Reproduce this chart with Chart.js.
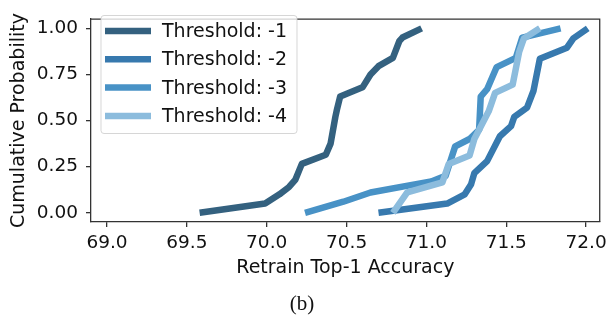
<!DOCTYPE html>
<html>
<head>
<meta charset="utf-8">
<script src="https://cdn.jsdelivr.net/npm/chart.js@4.4.1/dist/chart.umd.min.js"></script>
<style>
  html, body { margin: 0; padding: 0; background: #fff; }
  #wrap { width: 612px; height: 315px; }
</style>
</head>
<body>
<div id="wrap"><canvas id="cdf" width="612" height="315"></canvas></div>
<script>
// --- data ---
const seriesLabels = ['Threshold: -1', 'Threshold: -2', 'Threshold: -3', 'Threshold: -4'];
const seriesColors = ['#34617f', '#3779ae', '#4892c6', '#8cbcdd'];

const acc1  = [69.58, 69.99, 70.08, 70.14, 70.18, 70.22, 70.37, 70.40, 70.43, 70.44, 70.46, 70.60, 70.65, 70.70, 70.79, 70.83, 70.85, 70.97];
const prob1 = [0.00, 0.05, 0.10, 0.14, 0.18, 0.265, 0.315, 0.375, 0.52, 0.56, 0.63, 0.68, 0.75, 0.795, 0.84, 0.93, 0.95, 1.00];

const acc2  = [70.70, 71.13, 71.24, 71.28, 71.30, 71.38, 71.46, 71.53, 71.55, 71.63, 71.67, 71.71, 71.88, 71.92, 72.01];
const prob2 = [0.00, 0.05, 0.10, 0.155, 0.215, 0.28, 0.415, 0.47, 0.52, 0.57, 0.66, 0.835, 0.895, 0.945, 1.00];

const acc3  = [70.24, 70.48, 70.65, 71.03, 71.12, 71.18, 71.27, 71.33, 71.34, 71.38, 71.44, 71.56, 71.60, 71.84];
const prob3 = [0.00, 0.06, 0.11, 0.17, 0.20, 0.36, 0.40, 0.45, 0.63, 0.67, 0.79, 0.84, 0.95, 1.00];

const acc4  = [70.79, 70.88, 71.10, 71.14, 71.27, 71.30, 71.39, 71.43, 71.54, 71.58, 71.61, 71.71];
const prob4 = [0.00, 0.11, 0.165, 0.265, 0.31, 0.40, 0.55, 0.65, 0.695, 0.87, 0.945, 1.00];

const xTicks = [69.0, 69.5, 70.0, 70.5, 71.0, 71.5, 72.0];
const yTicks = [0.00, 0.25, 0.50, 0.75, 1.00];

const xTitle = 'Retrain Top-1 Accuracy';
const yTitle = 'Cumulative Probability';
const caption = '(b)';

// --- helpers ---
const toPoints = (xs, ys) => xs.map((x, i) => ({ x: x, y: ys[i] }));
const allAcc = [acc1, acc2, acc3, acc4];
const allProb = [prob1, prob2, prob3, prob4];

const AXIS = '#333';
const TEXT = '#111';

Chart.defaults.font.family = "'DejaVu Sans', sans-serif";
Chart.defaults.color = TEXT;

// legend drawn inside the plot, plus the top/right frame and the caption
const extras = {
    id: 'extras',
    afterDraw(chart) {
        const ctx = chart.ctx;
        const area = chart.chartArea;

        // top and right spines
        ctx.save();
        ctx.strokeStyle = AXIS;
        ctx.lineWidth = 1.3;
        ctx.beginPath();
        ctx.moveTo(area.left, area.top);
        ctx.lineTo(area.right, area.top);
        ctx.lineTo(area.right, area.bottom);
        ctx.stroke();
        ctx.restore();

        // legend box
        const bx = 101, by = 15.5, bw = 196, bh = 118, r = 3;
        ctx.save();
        ctx.beginPath();
        ctx.moveTo(bx + r, by);
        ctx.arcTo(bx + bw, by, bx + bw, by + bh, r);
        ctx.arcTo(bx + bw, by + bh, bx, by + bh, r);
        ctx.arcTo(bx, by + bh, bx, by, r);
        ctx.arcTo(bx, by, bx + bw, by, r);
        ctx.closePath();
        ctx.fillStyle = 'rgba(255,255,255,0.8)';
        ctx.fill();
        ctx.strokeStyle = 'rgba(204,204,204,0.8)';
        ctx.lineWidth = 1;
        ctx.stroke();

        ctx.font = "19px 'DejaVu Sans'";
        ctx.textBaseline = 'middle';
        ctx.textAlign = 'left';
        chart.data.datasets.forEach((ds, i) => {
            const y = 31 + i * 28.3;
            ctx.strokeStyle = ds.borderColor;
            ctx.lineWidth = 6.5;
            ctx.lineCap = 'butt';
            ctx.beginPath();
            ctx.moveTo(105, y);
            ctx.lineTo(151, y);
            ctx.stroke();
            ctx.fillStyle = TEXT;
            ctx.fillText(ds.label, 162, y + 1);
        });

        // caption under the figure
        ctx.font = "21px 'Liberation Serif', serif";
        ctx.textAlign = 'center';
        ctx.fillText(caption, 302, 304);
        ctx.restore();
    }
};

const datasets = seriesLabels.map((label, i) => ({
    label: label,
    data: toPoints(allAcc[i], allProb[i]),
    borderColor: seriesColors[i],
    backgroundColor: seriesColors[i],
    borderWidth: 6.5,
    borderCapStyle: 'butt',
    borderJoinStyle: 'round',
    pointRadius: 0,
    fill: false,
    tension: 0,
    order: seriesLabels.length - i // later series on top
}));

new Chart(document.getElementById('cdf'), {
    type: 'line',
    data: { datasets: datasets },
    options: {
        responsive: false,
        animation: false,
        layout: { padding: { top: 6, right: 10, bottom: 0, left: 0 } },
        plugins: {
            legend: { display: false },
            tooltip: { enabled: false }
        },
        scales: {
            x: {
                type: 'linear',
                min: 68.9,
                max: 72.085,
                afterFit: (scale) => { scale.height = 93; },
                afterBuildTicks: (scale) => { scale.ticks = xTicks.map(v => ({ value: v })); },
                grid: { drawOnChartArea: false, drawTicks: true, tickLength: 5, color: AXIS, lineWidth: 1.3 },
                border: { display: true, color: AXIS, width: 1.3 },
                ticks: {
                    padding: 5,
                    maxRotation: 0,
                    font: { size: 18.5 },
                    color: TEXT,
                    callback: (v) => Number(v).toFixed(1)
                },
                title: {
                    display: true,
                    text: xTitle,
                    font: { size: 19 },
                    color: TEXT,
                    padding: { top: 0, bottom: 35.6 }
                }
            },
            y: {
                type: 'linear',
                min: -0.05,
                max: 1.05,
                afterFit: (scale) => { scale.width = 91; },
                afterBuildTicks: (scale) => { scale.ticks = yTicks.map(v => ({ value: v })); },
                grid: { drawOnChartArea: false, drawTicks: true, tickLength: 5, color: AXIS, lineWidth: 1.3 },
                border: { display: true, color: AXIS, width: 1.3 },
                ticks: {
                    padding: 8,
                    font: { size: 18.5 },
                    color: TEXT,
                    callback: (v) => Number(v).toFixed(2)
                },
                title: {
                    display: true,
                    text: yTitle,
                    font: { size: 19 },
                    color: TEXT,
                    padding: { top: 7.6, bottom: 0 }
                }
            }
        }
    },
    plugins: [extras]
});
</script>
</body>
</html>
